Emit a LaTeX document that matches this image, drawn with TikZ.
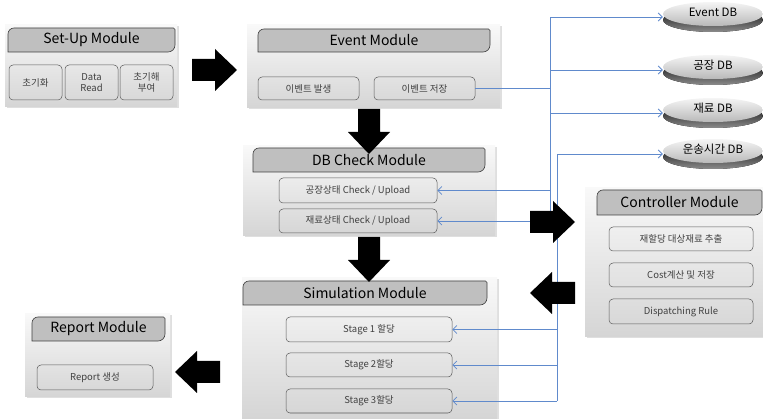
\documentclass[tikz,border=0pt]{standalone}
\usepackage{fontspec}
\setmainfont{Noto Sans CJK KR}
\usetikzlibrary{calc,arrows.meta,shadows,shapes.geometric}
\definecolor{linkblue}{RGB}{96,138,204}
\tikzset{
	panel/.style={inner sep=0pt, top color=gray!5, bottom color=gray!33, drop shadow={shadow xshift=1.5pt, shadow yshift=-1.5pt, opacity=0.25}},
	headtab/.style={fill=gray!50, draw=black!75, line width=0.6pt},
	headtext/.style={inner sep=0pt, font=\fontsize{14}{14}\selectfont},
	item/.style={draw=black!65, line width=0.5pt, rounded corners=4pt, inner sep=0pt, align=center, text=black!75, font=\fontsize{9.5}{10.5}\selectfont},
	link/.style={draw=linkblue, line width=0.8pt},
	tip/.style={-{Straight Barb[length=4pt, width=8pt]}},
	dbrim/.style={top color=black!95, bottom color=black!45},
	dbface/.style={top color=gray!8, bottom color=gray!55},
	dblabel/.style={ellipse, minimum width=100, minimum height=30, inner sep=0pt, text height=8pt, text depth=8pt, font=\fontsize{11.5}{11.5}\selectfont},
}
\def\headtab(#1,#2)(#3,#4){\filldraw[headtab] ({(#1+#3)/2},#4) -- (#1,#4) [rounded corners=6pt] -- (#1,#2) [rounded corners=1.5pt] -- (#3,#2) [rounded corners=7pt] -- (#3,#4) [sharp corners] -- cycle;}
\def\dbdisc(#1,#2)#3#4{\fill[dbrim] (#1,#2+3) ellipse (50 and 12); \shade[dbface] (#1,#2-3) ellipse (50 and 12); \node[dblabel] (#3) at (#1,#2) {#4};}
\def\blockarrow(#1,#2)#3{\fill[black, shift={(#1,#2)}, rotate=#3] (0,-11) -- (23,-11) -- (23,-21) -- (45,0) -- (23,21) -- (23,11) -- (0,11) -- cycle;}

\begin{document}
\begin{tikzpicture}[x=1pt, y=-1pt]
			%%%%% START %%%%%
			\useasboundingbox (0,0) rectangle (763,419);
			
			% panels
			\node[panel, minimum width=172, minimum height=82] (setup) at (91,66) {};
			\node[panel, minimum width=253, minimum height=83] (event) at (373.5,66.5) {};
			\node[panel, minimum width=252, minimum height=90] (dbcheck) at (369,191) {};
			\node[panel, minimum width=255, minimum height=141] (sim) at (369.5,348.5) {};
			\node[panel, minimum width=182, minimum height=149] (ctrl) at (676,262.5) {};
			\node[panel, minimum width=145, minimum height=83] (report) at (97.5,355.5) {};
			
			% headers
			\headtab(8,28)(175,52)
			\node[headtext] (setuph) at (91.5,40) {Set-Up Module};
			\headtab(258,29)(490,52)
			\node[headtext] (eventh) at (374,40.5) {Event Module};
			\headtab(253,148)(485,172)
			\node[headtext] (dbcheckh) at (369,160) {DB Check Module};
			\headtab(243,281)(487,305)
			\node[headtext] (simh) at (365,293) {Simulation Module};
			\headtab(597,190)(762,215)
			\node[headtext] (ctrlh) at (679.5,202.5) {Controller Module};
			\headtab(32,317)(165,341)
			\node[headtext] (reporth) at (98.5,329) {Report Module};
			
			% boxes
			\node[item, minimum width=53, minimum height=35] (init) at (35.5,82.5) {초기화};
			\node[item, minimum width=53, minimum height=35] (read) at (91.5,82.5) {Data\\Read};
			\node[item, minimum width=53, minimum height=35] (seed) at (146.5,82.5) {초기해\\부여};
			
			\node[item, minimum width=101, minimum height=23] (evgen) at (308.5,88.5) {이벤트 발생};
			\node[item, minimum width=101, minimum height=23] (evsave) at (424.5,88.5) {이벤트 저장};
			
			\node[item, minimum width=158, minimum height=25] (ckplant) at (358,190.5) {공장상태 Check / Upload};
			\node[item, minimum width=158, minimum height=24] (ckmat) at (358,221) {재료상태 Check / Upload};
			
			\node[item, minimum width=144, minimum height=24] (realloc) at (681,239) {재할당 대상재료 추출};
			\node[item, minimum width=144, minimum height=24] (cost) at (681,275) {Cost계산 및 저장};
			\node[item, minimum width=144, minimum height=25] (rule) at (681,311.5) {Dispatching Rule};
			
			\node[item, minimum width=166, minimum height=25] (stage1) at (369,329.5) {Stage 1 할당};
			\node[item, minimum width=166, minimum height=24] (stage2) at (369,365) {Stage 2할당};
			\node[item, minimum width=166, minimum height=24] (stage3) at (369,401) {Stage 3할당};
			
			\node[item, minimum width=116, minimum height=25] (rgen) at (95,377.5) {Report 생성};
			
			% databases
			\dbdisc(713,17){edb}{Event DB}
			\dbdisc(713,70){pdb}{공장 DB}
			\dbdisc(713,113){mdb}{재료 DB}
			\dbdisc(713,154){tdb}{운송시간 DB}
			
			% blue links
			\coordinate (bus1) at (550,0);
			\coordinate (bus2) at (557,0);
			
			\draw[link] (evsave.east) -- (evsave.east -| bus1);
			\draw[link] (ckmat.east -| bus1) -- (edb.west -| bus1);
			\draw[link, tip] (edb.west -| bus1) -- (edb.west);
			\draw[link, tip] (pdb.west -| bus1) -- (pdb.west);
			\draw[link, tip] (mdb.west -| bus1) -- (mdb.west);
			\draw[link, tip] (ckplant.east -| bus1) -- (ckplant.east);
			\draw[link, tip] (ckmat.east -| bus1) -- (ckmat.east);
			
			\draw[link] (stage3.east -| bus2) -- (tdb.west -| bus2);
			\draw[link, tip] (tdb.west -| bus2) -- (tdb.west);
			\draw[link, tip] (stage1.east -| bus2) -- (stage1.east);
			\draw[link, tip] (stage2.east -| bus2) -- (stage2.east);
			\draw[link, tip] (stage3.east -| bus2) -- (stage3.east);
			
			% block arrows
			\blockarrow(192,70){0}
			\blockarrow(369,109){-90}
			\blockarrow(369,237){-90}
			\blockarrow(530,222){0}
			\blockarrow(575,293){180}
			\blockarrow(220,372){180}
			
			%%%%% END %%%%%
\end{tikzpicture}
\end{document}
